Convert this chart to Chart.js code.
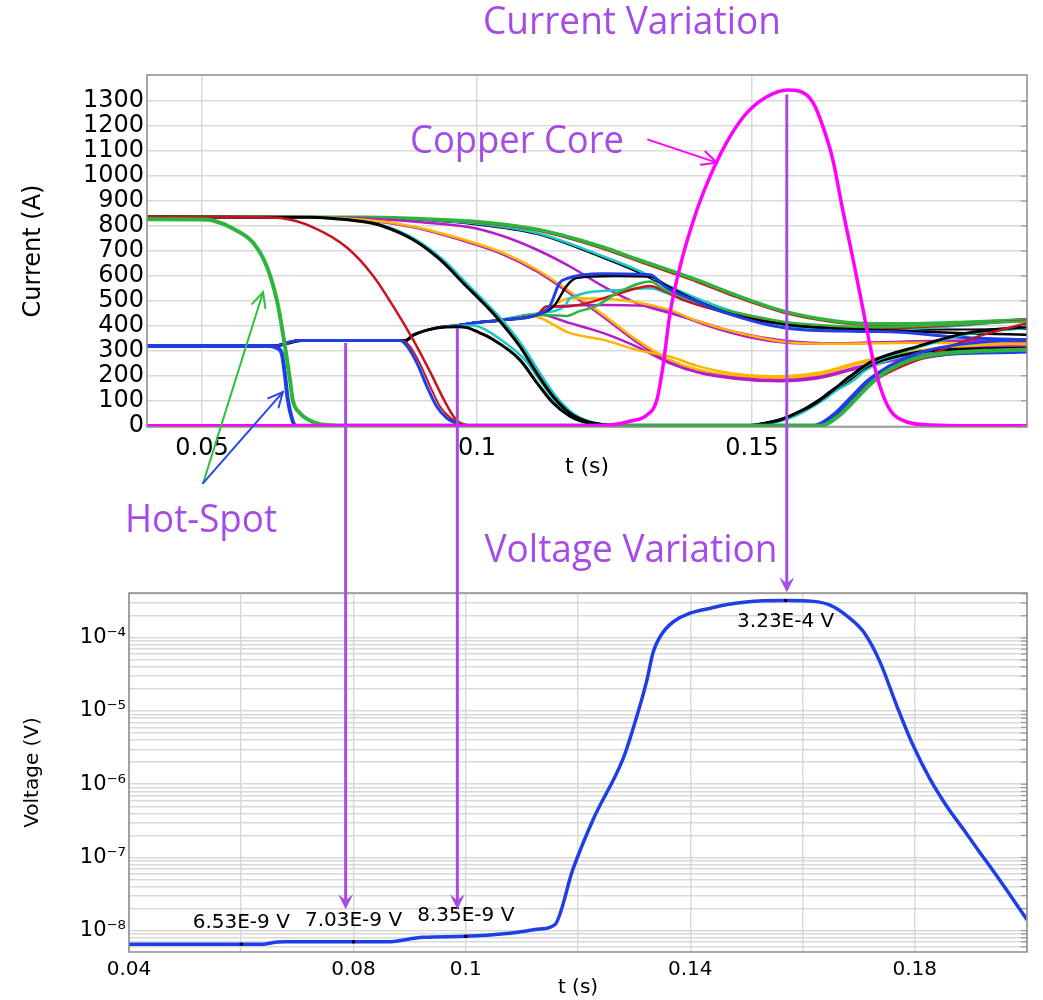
<!DOCTYPE html>
<html><head><meta charset="utf-8">
<script src="https://cdn.jsdelivr.net/npm/chart.js@4.4.1/dist/chart.umd.min.js"></script>
<style>
html,body{margin:0;padding:0;background:#fff;}
#wrap{position:relative;width:1043px;height:1000px;overflow:hidden;background:#fff;}
canvas{position:absolute;left:0;}
#top{top:0;}
#bot{top:500px;}
#ov{top:0;pointer-events:none;}
</style></head><body>
<div id="wrap">
<canvas id="top" width="1043" height="480"></canvas>
<canvas id="bot" width="1043" height="500"></canvas>
<canvas id="ov" width="1043" height="1000"></canvas>
</div>
<script>
// ================= DATA =================
// Top chart: current (A) vs t (s); each series = [t, I] pairs
const topXTicks = [0.05, 0.1, 0.15];
const topYTicks = [0,100,200,300,400,500,600,700,800,900,1000,1100,1200,1300];

const copperCore = [[0.04,0],[0.12,0],[0.125,5],[0.1278,18],[0.1309,43],[0.1327,103],[0.1338,236],[0.1351,451],[0.1369,636],[0.14,865],[0.1429,1025],[0.146,1158],[0.1491,1254],[0.1527,1318],[0.1564,1345],[0.1587,1340],[0.1611,1294],[0.1629,1198],[0.1647,1065],[0.1665,864],[0.1684,664],[0.1702,464],[0.172,264],[0.1733,156],[0.1751,63],[0.1782,15],[0.1824,3],[0.19,0],[0.2,0]];
const hotGreen = [[0.04,827],[0.05,826],[0.052,822],[0.0556,790],[0.0593,733],[0.0618,637],[0.0636,504],[0.0647,371],[0.066,183],[0.0665,103],[0.0678,51],[0.0702,15],[0.0727,3],[0.076,0],[0.1625,0],[0.1658,40],[0.1688,105],[0.1718,172],[0.1748,222],[0.1792,266],[0.185,290],[0.192,300],[0.2,305]];
const hotBlue = [[0.04,319],[0.062,319],[0.0635,313],[0.0645,290],[0.0651,200],[0.0656,105],[0.0664,25],[0.0669,2],[0.0675,0],[0.1615,0],[0.165,45],[0.168,110],[0.171,178],[0.1745,228],[0.179,268],[0.185,287],[0.192,293],[0.2,297]];
const plateauBlue = [[0.04,319],[0.063,319],[0.0645,323],[0.066,335],[0.068,341],[0.086,341],[0.0873,318],[0.0891,250],[0.0909,157],[0.0927,76],[0.0945,31],[0.096,12],[0.097,2],[0.098,0],[0.161,0],[0.1645,40],[0.168,115],[0.171,180],[0.175,240],[0.18,290],[0.186,320],[0.193,337],[0.2,344]];
const plateauRed = [[0.04,319],[0.063,319],[0.066,335],[0.068,341],[0.0865,341],[0.0878,318],[0.0896,250],[0.0915,157],[0.0933,76],[0.0952,31],[0.0967,10],[0.0978,0],[0.162,0],[0.1655,40],[0.169,110],[0.172,172],[0.1755,225],[0.18,262],[0.186,285],[0.2,300]];
const bigRed = [[0.04,836],[0.06,835],[0.0642,832],[0.0702,795],[0.0764,713],[0.0811,601],[0.0847,481],[0.0884,344],[0.0915,215],[0.0945,83],[0.0964,19],[0.0985,2],[0.1,0],[0.1615,0],[0.165,40],[0.1678,100],[0.171,165],[0.175,215],[0.18,263],[0.186,317],[0.192,364],[0.2,411]];
const bigBlack = [[0.04,836],[0.07,835],[0.075,828],[0.08,815],[0.0824,803],[0.0884,745],[0.0933,665],[0.0982,556],[0.1005,506],[0.1036,434],[0.1078,318],[0.1109,210],[0.1138,118],[0.1169,50],[0.12,17],[0.123,5],[0.126,0],[0.149,0],[0.152,9],[0.155,23],[0.158,50],[0.161,83],[0.164,130],[0.1678,197],[0.172,260],[0.18,317],[0.189,371],[0.2,397]];
const bigCyan = [[0.04,836],[0.07,835],[0.0756,827],[0.0806,814],[0.083,802],[0.089,744],[0.0939,664],[0.0988,555],[0.1011,505],[0.1042,433],[0.1084,317],[0.1115,209],[0.1144,117],[0.1175,49],[0.1206,16],[0.1236,4],[0.127,0],[0.149,0],[0.152,8],[0.155,21],[0.158,47],[0.161,80],[0.164,126],[0.1678,192],[0.172,255],[0.18,312],[0.189,366],[0.2,392]];
const plateauBlack = [[0.04,319],[0.063,319],[0.0655,330],[0.068,341],[0.087,341],[0.0884,363],[0.0927,392],[0.0965,397],[0.0982,393],[0.1005,372],[0.1024,352],[0.1078,264],[0.1109,172],[0.1138,92],[0.1169,38],[0.12,12],[0.1248,0],[0.149,0],[0.153,12],[0.156,30],[0.159,60],[0.162,100],[0.165,148],[0.1678,185],[0.17,224],[0.173,257],[0.179,290],[0.185,304],[0.2,310]];
const plateauCyan = [[0.04,319],[0.063,319],[0.0655,330],[0.068,341],[0.087,341],[0.0884,363],[0.0927,392],[0.0965,400],[0.0995,402],[0.1015,385],[0.104,350],[0.1088,262],[0.1118,170],[0.1146,90],[0.1176,37],[0.1207,11],[0.1255,0],[0.15,0],[0.1535,11],[0.1565,28],[0.1595,57],[0.1625,96],[0.1655,143],[0.1685,182],[0.1705,220],[0.1735,253],[0.1795,287],[0.1855,301],[0.2,307]];
const riserBlue = [[0.04,319],[0.063,319],[0.066,336],[0.068,341],[0.087,341],[0.0884,363],[0.0927,392],[0.0965,402],[0.0987,410],[0.1048,424],[0.1109,444],[0.1132,478],[0.115,571],[0.1163,589],[0.123,609],[0.1315,605],[0.134,560],[0.1393,504],[0.1453,451],[0.1563,391],[0.1696,378],[0.177,375],[0.186,357],[0.2,344]];
const riserBlack = [[0.04,319],[0.063,319],[0.066,336],[0.068,341],[0.087,341],[0.0884,363],[0.0927,392],[0.0965,402],[0.0987,410],[0.1048,424],[0.1109,444],[0.114,480],[0.1163,560],[0.118,592],[0.125,600],[0.1315,598],[0.1345,560],[0.14,500],[0.146,448],[0.1563,405],[0.165,390],[0.172,384],[0.18,378],[0.19,370],[0.2,365]];
const riserGreen = [[0.04,319],[0.063,319],[0.066,336],[0.068,341],[0.087,341],[0.0884,363],[0.0927,392],[0.0965,402],[0.0987,410],[0.1048,424],[0.1109,444],[0.115,442],[0.1163,440],[0.1185,458],[0.1215,478],[0.126,538],[0.1315,578],[0.134,546],[0.137,520],[0.142,480],[0.15,440],[0.1563,415],[0.165,400],[0.172,395],[0.18,400],[0.19,410],[0.2,418]];
const riserRed = [[0.04,319],[0.063,319],[0.066,336],[0.068,341],[0.087,341],[0.0884,363],[0.0927,392],[0.0965,402],[0.0987,410],[0.1048,424],[0.1109,444],[0.1126,478],[0.1163,478],[0.1199,491],[0.126,531],[0.1315,560],[0.134,540],[0.138,500],[0.145,455],[0.1563,408],[0.165,392],[0.172,388],[0.18,395],[0.19,408],[0.2,422]];
const riserCyan = [[0.04,319],[0.063,319],[0.066,336],[0.068,341],[0.087,341],[0.0884,363],[0.0927,392],[0.0965,402],[0.0987,410],[0.1048,426],[0.1109,450],[0.116,480],[0.1169,511],[0.126,544],[0.1315,551],[0.1345,531],[0.138,500],[0.145,455],[0.1563,402],[0.165,385],[0.172,382],[0.18,390],[0.19,405],[0.2,425]];
const riserOrange = [[0.04,319],[0.063,319],[0.066,336],[0.068,341],[0.087,341],[0.0884,363],[0.0927,392],[0.0965,402],[0.0987,410],[0.1048,424],[0.1109,444],[0.1169,511],[0.126,504],[0.135,464],[0.14,420],[0.147,375],[0.1563,335],[0.165,328],[0.172,330],[0.18,332],[0.19,330],[0.2,326]];
const riserPurple = [[0.04,319],[0.063,319],[0.066,336],[0.068,341],[0.087,341],[0.0884,363],[0.0927,392],[0.0965,402],[0.0987,410],[0.1048,424],[0.1109,444],[0.114,478],[0.123,484],[0.132,478],[0.136,450],[0.142,400],[0.15,352],[0.1563,332],[0.165,328],[0.172,332],[0.18,336],[0.19,338],[0.2,338]];
const lowerOrange = [[0.04,319],[0.063,319],[0.066,336],[0.068,341],[0.087,341],[0.0884,363],[0.0927,392],[0.0965,402],[0.0987,410],[0.1048,424],[0.1099,440],[0.1169,371],[0.123,344],[0.129,304],[0.1351,277],[0.14,240],[0.148,205],[0.155,198],[0.162,212],[0.1696,255],[0.175,280],[0.18,300],[0.19,322],[0.2,332]];
const lowerPurple = [[0.04,319],[0.063,319],[0.066,336],[0.068,341],[0.087,341],[0.0884,363],[0.0927,392],[0.0965,402],[0.0987,410],[0.1048,426],[0.1109,448],[0.1169,411],[0.123,371],[0.129,317],[0.1351,250],[0.14,215],[0.148,190],[0.155,182],[0.162,195],[0.1696,237],[0.175,262],[0.18,285],[0.19,310],[0.2,322]];
const diagOrange = [[0.04,836],[0.07,835],[0.08,824],[0.088,800],[0.0933,772],[0.0987,738],[0.1048,692],[0.1109,625],[0.1169,538],[0.123,444],[0.129,344],[0.1351,264],[0.14,225],[0.147,200],[0.155,192],[0.162,205],[0.1696,250],[0.175,275],[0.18,297],[0.19,320],[0.2,330]];
const diagPurple2 = [[0.04,836],[0.07,835],[0.08,822],[0.088,797],[0.0933,768],[0.0987,733],[0.1048,686],[0.1109,618],[0.1169,530],[0.123,436],[0.129,336],[0.1351,256],[0.14,215],[0.147,188],[0.155,178],[0.162,190],[0.1696,232],[0.175,258],[0.18,282],[0.19,308],[0.2,320]];
const diagPurple = [[0.04,836],[0.07,835],[0.08,830],[0.09,815],[0.0987,795],[0.1048,759],[0.1109,705],[0.1169,638],[0.123,558],[0.129,491],[0.1351,451],[0.14,420],[0.147,375],[0.1563,340],[0.165,330],[0.172,333],[0.18,338],[0.19,342],[0.2,345]];
const topGreen = [[0.04,836],[0.08,835],[0.09,829],[0.0987,820],[0.1109,787],[0.1169,755],[0.123,715],[0.129,668],[0.1351,622],[0.14,584],[0.147,524],[0.1563,456],[0.165,420],[0.172,409],[0.18,409],[0.19,416],[0.2,424]];
const topRed = [[0.04,836],[0.08,834],[0.09,827],[0.0987,817],[0.1109,783],[0.1169,750],[0.123,709],[0.129,662],[0.1351,615],[0.14,577],[0.147,517],[0.1563,450],[0.165,415],[0.172,405],[0.18,406],[0.19,415],[0.2,427]];
const topCyan = [[0.04,836],[0.08,834],[0.09,826],[0.0987,813],[0.1109,772],[0.123,678],[0.129,625],[0.1327,585],[0.1351,558],[0.14,510],[0.147,455],[0.1563,410],[0.165,392],[0.172,385],[0.18,392],[0.19,408],[0.2,428]];
const topBlack = [[0.04,836],[0.08,833],[0.09,824],[0.0987,809],[0.1109,768],[0.123,672],[0.129,618],[0.1327,578],[0.1351,548],[0.14,500],[0.147,448],[0.1563,404],[0.165,388],[0.172,383],[0.18,385],[0.19,386],[0.2,388]];

// Bottom chart: voltage (V) vs t (s)
const botXGrid = [0.04,0.06,0.08,0.1,0.12,0.14,0.16,0.18,0.2];
const botXLabels = [0.04,0.08,0.1,0.14,0.18];
const voltT = [0.04,0.064,0.0665,0.068,0.086,0.0924,0.1,0.1073,0.1132,0.1159,0.1191,0.1227,0.128,0.1298,0.1322,0.1334,0.1346,0.137,0.1441,0.15,0.1572,0.1619,0.1649,0.1679,0.1709,0.1738,0.1768,0.1797,0.1827,0.1857,0.1887,0.1916,0.1946,0.2];
const voltV = [6.53e-9,6.53e-9,7.0e-9,7.03e-9,7.03e-9,8.1e-9,8.35e-9,9.1e-9,1.05e-8,1.21e-8,6.9e-8,3.3e-7,2.2e-6,5.7e-6,2.5e-5,6.4e-5,1.03e-4,1.66e-4,2.6e-4,3.1e-4,3.23e-4,3.15e-4,2.8e-4,2.0e-4,1.2e-4,4.7e-5,1.18e-5,3.4e-6,1.18e-6,5.0e-7,2.4e-7,1.17e-7,5.6e-8,1.41e-8];
const markT = [0.06, 0.08, 0.1, 0.157];
const markV = [6.53e-9, 7.03e-9, 8.35e-9, 3.23e-4];

// Annotation arrows (data coordinates)
const arrowT = [0.0786, 0.0985, 0.1572];      // bottom-chart t of the purple drop lines
const arrowFromI = [331, 392, 1327];          // top-chart current where they start
const arrowToV = [1.95e-8, 1.95e-8, 4.2e-4];  // bottom-chart voltage at the tips

// ================= STYLES =================
const C = {green:'#2eb43c', blue:'#1f3fe6', red:'#c8141e', black:'#000000', cyan:'#1ec8c8',
           orange:'#ffb400', purple:'#b41ec8', magenta:'#ff00ff'};
const PURPLE_TXT = '#a64ce6';
const topSeries = [
  [copperCore,'magenta',3.5],[hotGreen,'green',4],[hotBlue,'blue',4],
  [plateauBlue,'blue',3],[plateauRed,'red',2],[bigRed,'red',2.5],
  [bigBlack,'black',3],[bigCyan,'cyan',2.5],[plateauBlack,'black',3],[plateauCyan,'cyan',2.5],
  [riserBlue,'blue',3],[riserBlack,'black',2.5],[riserGreen,'green',2.5],[riserRed,'red',2.5],
  [riserCyan,'cyan',2.5],[riserOrange,'orange',2.5],[riserPurple,'purple',2.5],
  [lowerOrange,'orange',2.5],[lowerPurple,'purple',2.5],[diagOrange,'orange',2.5],
  [diagPurple2,'purple',2.5],[diagPurple,'purple',2.5],
  [topGreen,'green',3.5],[topRed,'red',2.5],[topCyan,'cyan',2.5],[topBlack,'black',2]
];

const GRID = '#d9d9d9';
const FRAME = '#8c8c8c';
const AXFONT = 'DejaVu Sans';

const framePlugin = {
  id:'frame',
  afterDraw(chart){
    const {ctx, chartArea:a} = chart;
    const ys = chart.scales.y;
    ctx.save();
    ctx.strokeStyle = FRAME; ctx.lineWidth = 1;
    ys.ticks.forEach(t=>{
      const y = ys.getPixelForValue(t.value);
      ctx.beginPath(); ctx.moveTo(a.right-6,y); ctx.lineTo(a.right,y); ctx.stroke();
    });
    ctx.lineWidth = 1.5;
    ctx.strokeRect(a.left, a.top, a.right-a.left, a.bottom-a.top);
    ctx.restore();
  }
};

const SUP = {'-':'\u207B','0':'\u2070','1':'\u00B9','2':'\u00B2','3':'\u00B3','4':'\u2074','5':'\u2075','6':'\u2076','7':'\u2077','8':'\u2078','9':'\u2079'};
function sup(n){ return String(n).split('').map(c=>SUP[c]).join(''); }

const topChart = new Chart(document.getElementById('top'), {
  type:'line',
  data:{ datasets: topSeries.map(([pts,col,w])=>({
    data: pts.map(p=>({x:p[0], y:p[1]})),
    borderColor: C[col], borderWidth: w, pointRadius:0, fill:false,
    cubicInterpolationMode:'monotone'
  }))},
  options:{
    responsive:false, animation:false, events:[],
    layout:{padding:{top:75,right:16,left:0,bottom:0}},
    plugins:{legend:{display:false}, tooltip:{enabled:false}},
    scales:{
      x:{type:'linear', min:0.04, max:0.2,
        afterBuildTicks:s=>{ s.ticks = topXTicks.map(v=>({value:v})); },
        afterFit:s=>{ s.height = 53; },
        ticks:{callback:v=>String(v), font:{family:AXFONT,size:24}, color:'#000', padding:7, maxRotation:0, autoSkip:false},
        grid:{color:GRID, lineWidth:1.5, drawTicks:false}, border:{display:false},
        title:{display:true, text:'t (s)', font:{family:AXFONT,size:22}, color:'#000', padding:{top:0,bottom:0}}
      },
      y:{type:'linear', min:-5, max:1405,
        afterBuildTicks:s=>{ s.ticks = topYTicks.map(v=>({value:v})); },
        afterFit:s=>{ s.width = 147; },
        ticks:{callback:v=>String(v), font:{family:AXFONT,size:24}, color:'#000', padding:3, autoSkip:false},
        grid:{color:GRID, lineWidth:1.5, drawTicks:false}, border:{display:false},
        title:{display:true, text:'Current (A)', font:{family:AXFONT,size:24}, color:'#000', padding:{top:19,bottom:0}}
      }
    }
  },
  plugins:[framePlugin]
});

const markPlugin = {
  id:'marks',
  afterDraw(chart){
    const {ctx} = chart; const xs = chart.scales.x, ys = chart.scales.y;
    ctx.save();
    ctx.font = '20px "DejaVu Sans"'; ctx.textAlign='center'; ctx.textBaseline='middle'; ctx.fillStyle='#000';
    markT.forEach((t,i)=>{
      const x = xs.getPixelForValue(t), y = ys.getPixelForValue(markV[i]);
      ctx.fillRect(x-1.5, y-1.5, 3, 3);
      const txt = markV[i].toExponential(2).toUpperCase() + ' V';
      const above = y > chart.chartArea.top + 40;
      ctx.fillText(txt, x, above ? y-21 : y+21);
    });
    ctx.restore();
  }
};

const botChart = new Chart(document.getElementById('bot'), {
  type:'line',
  data:{ datasets:[{
    data: voltT.map((t,i)=>({x:t, y:voltV[i]})),
    borderColor:C.blue, borderWidth:3.5, pointRadius:0, fill:false, cubicInterpolationMode:'monotone'
  }]},
  options:{
    responsive:false, animation:false, events:[],
    layout:{padding:{top:93,right:16,left:0,bottom:0}},
    plugins:{legend:{display:false}, tooltip:{enabled:false}},
    scales:{
      x:{type:'linear', min:0.04, max:0.2,
        afterBuildTicks:s=>{ s.ticks = botXGrid.map(v=>({value:v})); },
        afterFit:s=>{ s.height = 48; },
        ticks:{callback:v=> botXLabels.some(l=>Math.abs(l-v)<1e-9) ? String(Number(v.toFixed(2))) : '',
          font:{family:AXFONT,size:20}, color:'#000', padding:6, maxRotation:0, autoSkip:false},
        grid:{color:GRID, lineWidth:1.5, drawTicks:false}, border:{display:false},
        title:{display:true, text:'t (s)', font:{family:AXFONT,size:20}, color:'#000', padding:{top:0,bottom:0}}
      },
      y:{type:'logarithmic', min:5.1e-9, max:4.1e-4,
        afterBuildTicks:s=>{
          const t=[];
          for(let e=-9;e<=-3;e++) for(let m=1;m<=9;m++){ const v=m*Math.pow(10,e); if(v>=s.min && v<=s.max) t.push({value:v}); }
          s.ticks=t;
        },
        afterFit:s=>{ s.width = 129; },
        ticks:{callback:v=>{ const e=Math.log10(v); return Math.abs(e-Math.round(e))<1e-6 ? '10'+sup(Math.round(e)) : ''; },
          font:{family:AXFONT,size:21}, color:'#000', padding:3, autoSkip:false},
        grid:{color:GRID, lineWidth:1.5, drawTicks:false}, border:{display:false},
        title:{display:true, text:'Voltage (V)', font:{family:AXFONT,size:20}, color:'#000', padding:{top:21,bottom:0}}
      }
    }
  },
  plugins:[framePlugin, markPlugin]
});

// ================= OVERLAY ANNOTATIONS =================
(function drawOverlay(){
  const ov = document.getElementById('ov').getContext('2d');
  const BOT_OFF = 500;
  const tx = topChart.scales.x, ty = topChart.scales.y;
  const bx = botChart.scales.x, by = botChart.scales.y;

  function fitText(text, cx, cy, size, width, color){
    ov.save();
    ov.font = size+'px "Open Sans"';
    const w = ov.measureText(text).width;
    ov.translate(cx, cy); ov.scale(width/w, 1);
    ov.fillStyle = color; ov.textAlign='center'; ov.textBaseline='middle';
    ov.fillText(text, 0, 0);
    ov.restore();
  }
  function openArrow(x0,y0,x1,y1,color,lw,head){
    ov.save(); ov.strokeStyle=color; ov.lineWidth=lw; ov.lineCap='round';
    ov.beginPath(); ov.moveTo(x0,y0); ov.lineTo(x1,y1); ov.stroke();
    const a = Math.atan2(y1-y0, x1-x0);
    ov.beginPath();
    ov.moveTo(x1-head*Math.cos(a-0.45), y1-head*Math.sin(a-0.45));
    ov.lineTo(x1,y1);
    ov.lineTo(x1-head*Math.cos(a+0.45), y1-head*Math.sin(a+0.45));
    ov.stroke(); ov.restore();
  }
  function dropArrow(x, y0, y1){
    ov.save(); ov.strokeStyle=PURPLE_TXT; ov.fillStyle=PURPLE_TXT; ov.lineWidth=3;
    ov.beginPath(); ov.moveTo(x,y0); ov.lineTo(x,y1-6); ov.stroke();
    ov.beginPath(); ov.moveTo(x,y1); ov.lineTo(x-7.5,y1-15); ov.lineTo(x,y1-9); ov.lineTo(x+7.5,y1-15); ov.closePath(); ov.fill();
    ov.restore();
  }

  // titles / labels
  fitText('Current Variation', 632, 23, 38, 298, PURPLE_TXT);
  fitText('Copper Core', 517, 142, 38, 214, PURPLE_TXT);
  fitText('Hot-Spot', 201, 521, 38, 152, PURPLE_TXT);
  fitText('Voltage Variation', 631, 551, 38, 293, PURPLE_TXT);

  // pointer arrows in the current plot
  openArrow(tx.getPixelForValue(0.1311), ty.getPixelForValue(1146), tx.getPixelForValue(0.1436), ty.getPixelForValue(1054), C.magenta, 2, 16);
  const hx = tx.getPixelForValue(0.0502), hy = ty.getPixelForValue(-230);
  openArrow(hx, hy, tx.getPixelForValue(0.0611), ty.getPixelForValue(535), '#2ec03c', 2, 16);
  openArrow(hx, hy, tx.getPixelForValue(0.0647), ty.getPixelForValue(135), '#2a48ee', 2, 16);

  // purple drop arrows linking the two plots
  arrowT.forEach((t,i)=>{
    const x = bx.getPixelForValue(t);
    const y0 = ty.getPixelForValue(arrowFromI[i]);
    const y1 = by.getPixelForValue(arrowToV[i]) + BOT_OFF;
    dropArrow(x, y0, y1);
  });
})();
</script>
</body></html>
